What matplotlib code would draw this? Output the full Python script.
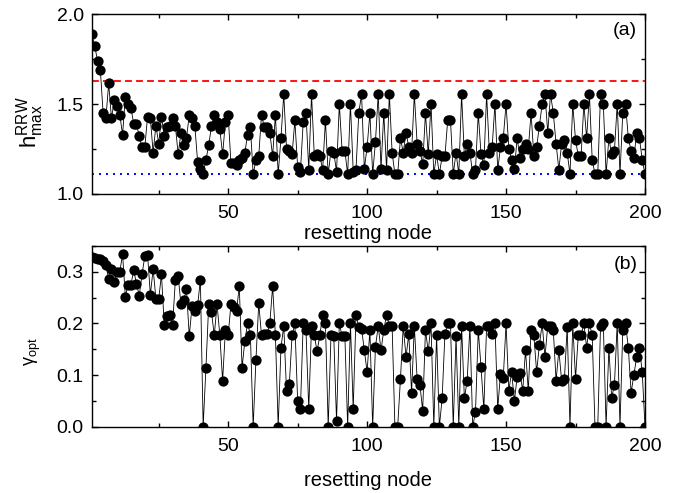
import matplotlib
matplotlib.use('Agg')
import matplotlib.pyplot as plt
from matplotlib.ticker import MultipleLocator

plt.rcParams['font.family'] = ['Liberation Sans', 'DejaVu Sans']
plt.rcParams['mathtext.fontset'] = 'custom'
plt.rcParams['mathtext.rm'] = 'Liberation Sans'
plt.rcParams['mathtext.it'] = 'Liberation Sans:italic'
plt.rcParams['mathtext.bf'] = 'Liberation Sans:bold'

nodes = list(range(1, 201))

h_max = [
    1.887, 1.82, 1.74, 1.69, 1.45, 1.42, 1.615, 1.42, 1.52, 1.49,
    1.44, 1.33, 1.54, 1.50, 1.48, 1.39, 1.39, 1.32, 1.26, 1.26,
    1.43, 1.42, 1.23, 1.38, 1.28, 1.43, 1.32, 1.37, 1.38, 1.42,
    1.38, 1.22, 1.34, 1.27, 1.31, 1.44, 1.42, 1.38, 1.18, 1.14,
    1.11, 1.19, 1.27, 1.38, 1.44, 1.40, 1.36, 1.22, 1.40, 1.44,
    1.17, 1.17, 1.16, 1.19, 1.20, 1.23, 1.33, 1.37, 1.11, 1.19,
    1.21, 1.44, 1.37, 1.37, 1.34, 1.21, 1.44, 1.11, 1.31, 1.555,
    1.25, 1.24, 1.22, 1.41, 1.15, 1.125, 1.40, 1.45, 1.135, 1.555,
    1.21, 1.22, 1.21, 1.135, 1.41, 1.11, 1.24, 1.23, 1.125, 1.50,
    1.24, 1.24, 1.11, 1.50, 1.125, 1.135, 1.45, 1.555, 1.14, 1.26,
    1.45, 1.11, 1.29, 1.555, 1.14, 1.45, 1.135, 1.555, 1.23, 1.11,
    1.11, 1.31, 1.23, 1.34, 1.26, 1.23, 1.555, 1.28, 1.24, 1.165,
    1.45, 1.22, 1.50, 1.11, 1.22, 1.11, 1.21, 1.21, 1.41, 1.41,
    1.11, 1.23, 1.11, 1.555, 1.21, 1.28, 1.23, 1.11, 1.135, 1.45,
    1.22, 1.16, 1.555, 1.23, 1.26, 1.50, 1.135, 1.26, 1.31, 1.50,
    1.25, 1.19, 1.14, 1.31, 1.20, 1.25, 1.28, 1.25, 1.45, 1.21,
    1.26, 1.38, 1.50, 1.555, 1.34, 1.555, 1.45, 1.28, 1.135, 1.28,
    1.30, 1.23, 1.11, 1.50, 1.30, 1.21, 1.21, 1.50, 1.31, 1.555,
    1.19, 1.11, 1.11, 1.555, 1.50, 1.11, 1.31, 1.22, 1.24, 1.50,
    1.11, 1.45, 1.50, 1.31, 1.24, 1.20, 1.34, 1.31, 1.19, 1.11,
]

gamma_opt = [
    0.328, 0.326, 0.325, 0.325, 0.320, 0.313, 0.286, 0.306, 0.281, 0.300,
    0.300, 0.334, 0.252, 0.275, 0.275, 0.303, 0.277, 0.254, 0.295, 0.330,
    0.332, 0.256, 0.305, 0.248, 0.247, 0.295, 0.197, 0.214, 0.217, 0.197,
    0.284, 0.292, 0.237, 0.245, 0.266, 0.175, 0.234, 0.224, 0.235, 0.284,
    0.000, 0.114, 0.237, 0.222, 0.177, 0.237, 0.177, 0.089, 0.187, 0.177,
    0.237, 0.232, 0.224, 0.272, 0.114, 0.166, 0.201, 0.177, 0.000, 0.130,
    0.239, 0.177, 0.179, 0.179, 0.201, 0.272, 0.177, 0.000, 0.153, 0.195,
    0.070, 0.082, 0.177, 0.200, 0.050, 0.034, 0.200, 0.187, 0.034, 0.195,
    0.177, 0.146, 0.177, 0.217, 0.200, 0.000, 0.177, 0.175, 0.011, 0.200,
    0.175, 0.175, 0.000, 0.200, 0.034, 0.217, 0.193, 0.190, 0.148, 0.106,
    0.187, 0.000, 0.155, 0.195, 0.148, 0.187, 0.217, 0.195, 0.195, 0.000,
    0.000, 0.093, 0.195, 0.135, 0.179, 0.066, 0.195, 0.092, 0.081, 0.031,
    0.187, 0.146, 0.200, 0.000, 0.177, 0.000, 0.055, 0.179, 0.200, 0.200,
    0.000, 0.175, 0.000, 0.195, 0.055, 0.089, 0.195, 0.000, 0.029, 0.187,
    0.115, 0.034, 0.195, 0.195, 0.179, 0.200, 0.034, 0.103, 0.095, 0.200,
    0.070, 0.106, 0.050, 0.097, 0.104, 0.070, 0.148, 0.070, 0.187, 0.177,
    0.106, 0.158, 0.200, 0.135, 0.195, 0.195, 0.187, 0.089, 0.148, 0.089,
    0.092, 0.193, 0.000, 0.200, 0.093, 0.177, 0.177, 0.200, 0.153, 0.200,
    0.177, 0.000, 0.000, 0.195, 0.200, 0.000, 0.153, 0.056, 0.081, 0.200,
    0.000, 0.187, 0.200, 0.153, 0.066, 0.100, 0.135, 0.153, 0.106, 0.000,
]

h_upper_ref = 1.628
h_lower_ref = 1.111

W, H = 688, 493
fig = plt.figure(figsize=(W / 100, H / 100), dpi=100)
ax1 = fig.add_axes([92 / W, 1 - 194 / H, 553 / W, 180 / H])
ax2 = fig.add_axes([92 / W, 1 - 426.7 / H, 553 / W, 180.7 / H])

mk = dict(color='black', lw=0.6, marker='o', ms=7.4, mfc='black', mec='black', mew=0)

ax1.plot(nodes, h_max, **mk, zorder=3)
ax1.axhline(h_upper_ref, color='#ff0000', lw=1.3, ls=(0, (3.8, 2.3)), zorder=2)
ax1.axhline(h_lower_ref, color='#0000ff', lw=1.4, ls=(0, (1.0, 2.6)), zorder=2)
ax1.set_xlim(1, 200)
ax1.set_ylim(1.0, 2.0)
ax1.xaxis.set_major_locator(MultipleLocator(50))
ax1.xaxis.set_minor_locator(MultipleLocator(25))
ax1.yaxis.set_major_locator(MultipleLocator(0.5))
ax1.yaxis.set_minor_locator(MultipleLocator(0.25))
ax1.set_xlabel('resetting node', fontsize=14.5)
ax1.xaxis.label.set_va('center')
ax1.xaxis.set_label_coords(0.5, -0.22)
ax1.set_ylabel(r'h$^{\mathrm{RRW}}_{\mathrm{max}}$', fontsize=16)
ax1.yaxis.label.set_va('center')
ax1.yaxis.set_label_coords(-0.112, 0.40)
ax1.text(0.986, 0.906, '(a)', transform=ax1.transAxes, ha='right', va='center', fontsize=14)

ax2.plot(nodes, gamma_opt, **mk, zorder=3)
ax2.set_xlim(1, 200)
ax2.set_ylim(0.0, 0.35)
ax2.xaxis.set_major_locator(MultipleLocator(50))
ax2.xaxis.set_minor_locator(MultipleLocator(25))
ax2.yaxis.set_major_locator(MultipleLocator(0.1))
ax2.yaxis.set_minor_locator(MultipleLocator(0.05))
ax2.set_xlabel('resetting node', fontsize=14.5)
ax2.xaxis.label.set_va('center')
ax2.xaxis.set_label_coords(0.5, -0.295)
ax2.set_ylabel(r'γ$_{\mathrm{opt}}$', fontsize=13)
ax2.yaxis.label.set_va('center')
ax2.yaxis.set_label_coords(-0.107, 0.413)
ax2.text(0.986, 0.895, '(b)', transform=ax2.transAxes, ha='right', va='center', fontsize=14)

for ax in (ax1, ax2):
    ax.tick_params(which='both', direction='in', top=True, right=True, width=1.0, labelsize=14)
    ax.tick_params(which='major', length=4.5)
    ax.tick_params(which='minor', length=2.8)
    ax.tick_params(axis='x', which='major', pad=8)
    ax.tick_params(axis='y', which='major', pad=6)
    for s in ax.spines.values():
        s.set_linewidth(1.0)

fig.savefig('out.png', dpi=100)
